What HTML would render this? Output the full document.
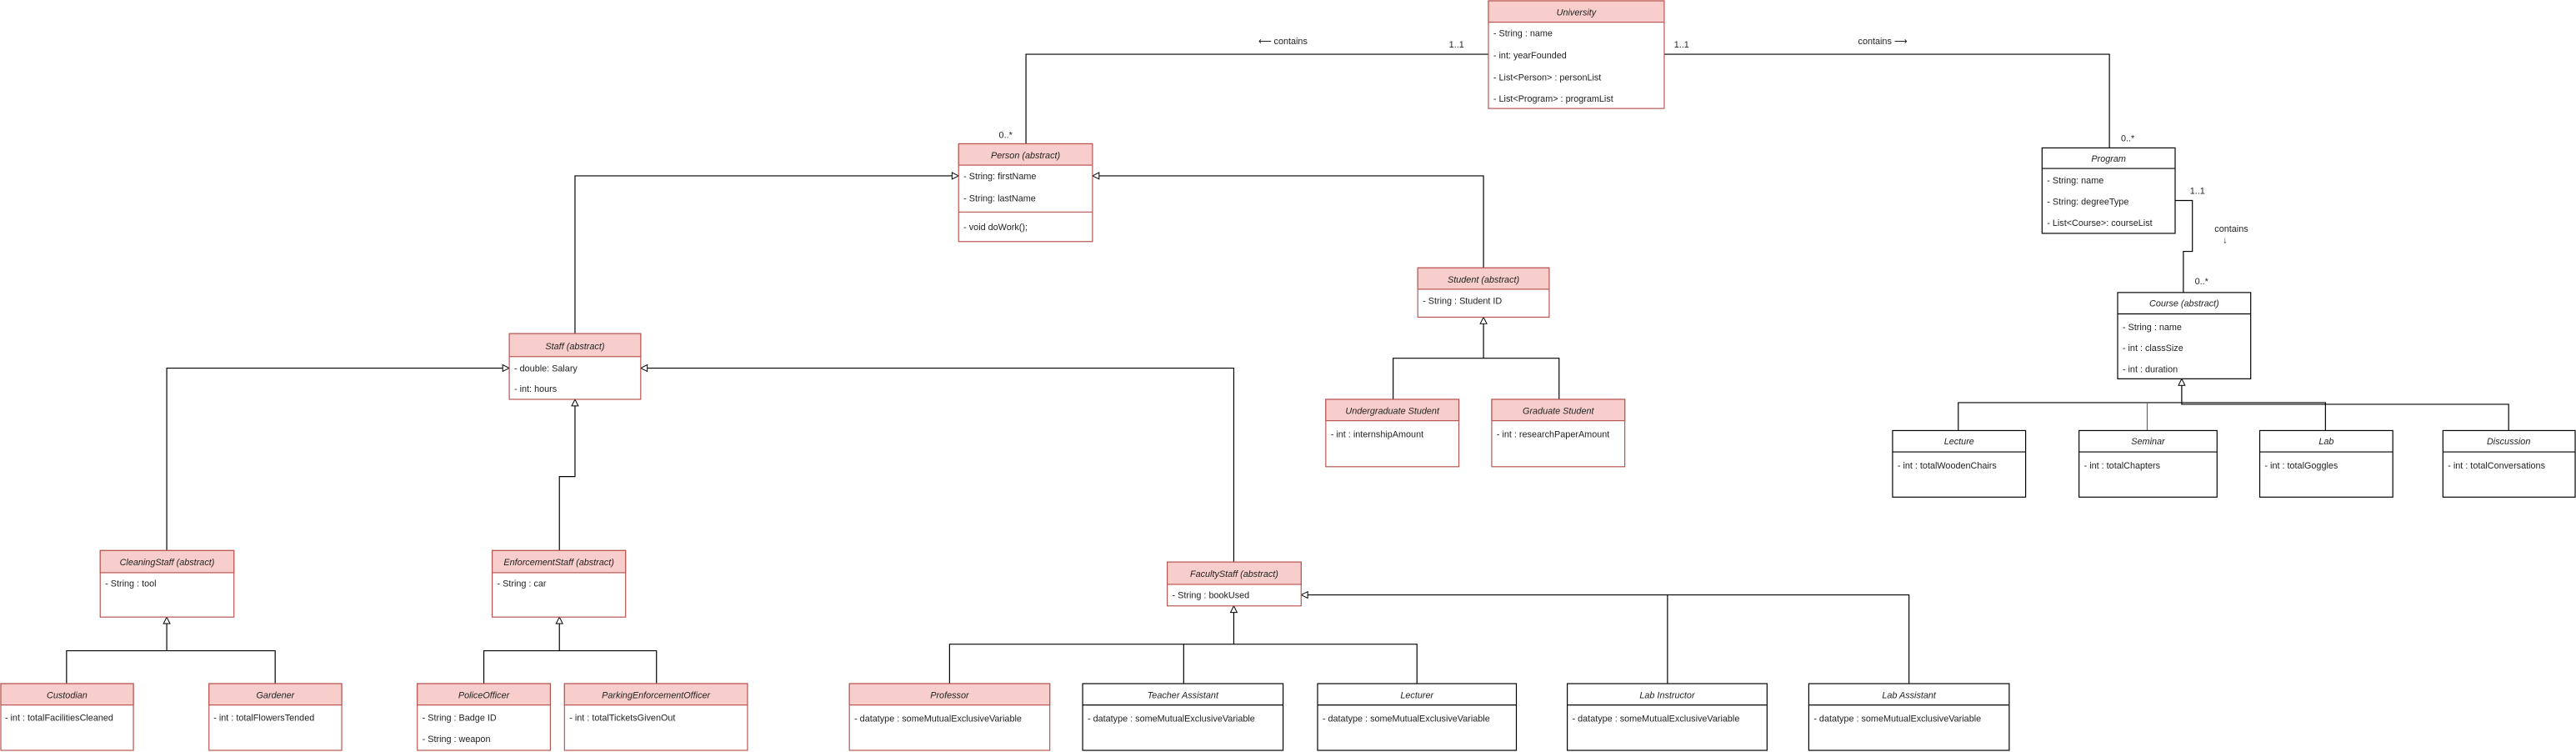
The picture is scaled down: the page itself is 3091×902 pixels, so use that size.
<!DOCTYPE html>
<html><head><meta charset="utf-8"><style>
html,body{margin:0;padding:0;background:#fff;}
svg{display:block;}
text{font-family:"Liberation Sans",Arial,sans-serif;font-size:5.5px;fill:#222;}
.t{font-style:italic;text-anchor:middle;}
.pk{fill:#f8cecc;stroke:#b85450;stroke-width:0.6;}
.pw{fill:#fff;stroke:#b85450;stroke-width:0.6;}
.bk{fill:#fff;stroke:#000;stroke-width:0.6;}
.ln{fill:none;stroke:#000;stroke-width:0.6;}
.tri{fill:#fff;stroke:#000;stroke-width:0.5;}
</style></head><body>
<svg width="3091" height="902" viewBox="0 0 1568 457.6" preserveAspectRatio="none" xmlns="http://www.w3.org/2000/svg">
<rect width="1568" height="457.6" fill="#fff"/>

<!-- connectors -->
<polyline class="ln" points="906,33 624.5,33 624.5,87.5"/>
<polyline class="ln" points="1013,33 1284,33 1284,90"/>
<polyline class="ln" points="1324,122 1334.5,122 1334.5,153 1329,153 1329,178"/>
<polyline class="ln" points="350,203 350,107 579.5,107"/>
<polyline class="ln" points="903,163 903,107 669,107"/>
<polyline class="ln" points="848,243 848,218 949,218 949,243"/>
<line class="ln" x1="903" y1="218" x2="903" y2="197"/>
<polyline class="ln" points="306,224 101.5,224 101.5,335"/>
<polyline class="ln" points="340.5,335 340.5,290 350,290 350,247"/>
<polyline class="ln" points="394,224 751,224 751,342"/>
<polyline class="ln" points="40.5,416 40.5,396 167.5,396 167.5,416"/>
<line class="ln" x1="101.5" y1="396" x2="101.5" y2="379.5"/>
<polyline class="ln" points="294.5,416 294.5,396 399.6,396 399.6,416"/>
<line class="ln" x1="340.5" y1="396" x2="340.5" y2="379.5"/>
<polyline class="ln" points="578,416 578,392 862.5,392 862.5,416"/>
<line class="ln" x1="720.5" y1="392" x2="720.5" y2="416"/>
<line class="ln" x1="751" y1="392" x2="751" y2="372.7"/>
<polyline class="ln" points="1015,416 1015,362 796,362"/>
<polyline class="ln" points="1162,416 1162,362 1015,362"/>
<polyline class="ln" points="1192,262 1192,245 1415.5,245 1415.5,262"/>
<line class="ln" x1="1307" y1="262" x2="1307" y2="245" style="stroke:#666"/>
<polyline class="ln" points="1527,262 1527,246 1328,246 1328,234.5"/>

<!-- triangles -->
<polygon class="tri" points="583.5,107 579.5,105 579.5,109"/>
<polygon class="tri" points="665,107 669,105 669,109"/>
<polygon class="tri" points="903,193 901,197 905,197"/>
<polygon class="tri" points="310,224 306,222 306,226"/>
<polygon class="tri" points="390,224 394,222 394,226"/>
<polygon class="tri" points="350,243 348,247 352,247"/>
<polygon class="tri" points="101.5,375.5 99.5,379.5 103.5,379.5"/>
<polygon class="tri" points="340.5,375.5 338.5,379.5 342.5,379.5"/>
<polygon class="tri" points="751,368.7 749,372.7 753,372.7"/>
<polygon class="tri" points="792,362 796,360 796,364"/>
<polygon class="tri" points="1328,230.5 1326,234.5 1330,234.5"/>

<!-- labels -->
<text x="766" y="27">⟵ contains</text>
<text x="882" y="29">1..1</text>
<text x="1019" y="29">1..1</text>
<text x="1131" y="27">contains ⟶</text>
<text x="608" y="84">0..*</text>
<text x="1291" y="86">0..*</text>
<text x="1333" y="118">1..1</text>
<text x="1348" y="141">contains</text>
<text x="1353" y="148">↓</text>
<text x="1336" y="173">0..*</text>

<!-- University -->
<rect class="pw" x="906" y="0.5" width="107" height="65.5"/>
<rect class="pk" x="906" y="0.5" width="107" height="13"/>
<text class="t" x="959.5" y="9.5">University</text>
<text x="909" y="22">- String : name</text>
<text x="909" y="35.5">- int: yearFounded</text>
<text x="909" y="49">- List&lt;Person&gt; :  personList</text>
<text x="909" y="62">- List&lt;Program&gt; : programList</text>

<!-- Person -->
<rect class="pw" x="583.5" y="87.5" width="81.5" height="59.5"/>
<rect class="pk" x="583.5" y="87.5" width="81.5" height="13"/>
<line x1="583.5" y1="129" x2="665" y2="129" stroke="#b85450" stroke-width="0.6"/>
<text class="t" x="624.25" y="96.5">Person (abstract)</text>
<text x="586.5" y="109">- String: firstName</text>
<text x="586.5" y="122.5">- String: lastName</text>
<text x="586.5" y="140">- void doWork();</text>

<!-- Program -->
<rect class="bk" x="1243" y="90" width="81" height="52"/>
<line x1="1243" y1="102.5" x2="1324" y2="102.5" stroke="#000" stroke-width="0.6"/>
<text class="t" x="1283.5" y="98.5">Program</text>
<text x="1246" y="111.5">- String: name</text>
<text x="1246" y="124.5">- String: degreeType</text>
<text x="1246" y="137.5">- List&lt;Course&gt;: courseList</text>

<!-- Course -->
<rect class="bk" x="1289" y="178" width="81" height="52.5"/>
<line x1="1289" y1="191" x2="1370" y2="191" stroke="#000" stroke-width="0.6"/>
<text class="t" x="1329.5" y="186.5">Course (abstract)</text>
<text x="1292" y="201">- String : name</text>
<text x="1292" y="213.5">- int : classSize</text>
<text x="1292" y="226.5">- int : duration</text>

<!-- Course children -->
<rect class="bk" x="1152" y="262" width="81" height="40.5"/>
<line x1="1152" y1="275" x2="1233" y2="275" stroke="#000" stroke-width="0.6"/>
<text class="t" x="1192.5" y="270.5">Lecture</text>
<text x="1155" y="285">- int : totalWoodenChairs</text>

<rect class="bk" x="1265.5" y="262" width="84" height="40.5"/>
<line x1="1265.5" y1="275" x2="1349.5" y2="275" stroke="#000" stroke-width="0.6"/>
<text class="t" x="1307.5" y="270.5">Seminar</text>
<text x="1268.5" y="285">- int : totalChapters</text>

<rect class="bk" x="1375.5" y="262" width="81" height="40.5"/>
<line x1="1375.5" y1="275" x2="1456.5" y2="275" stroke="#000" stroke-width="0.6"/>
<text class="t" x="1416" y="270.5">Lab</text>
<text x="1378.5" y="285">- int : totalGoggles</text>

<rect class="bk" x="1487" y="262" width="80.5" height="40.5"/>
<line x1="1487" y1="275" x2="1567.5" y2="275" stroke="#000" stroke-width="0.6"/>
<text class="t" x="1527" y="270.5">Discussion</text>
<text x="1490" y="285">- int : totalConversations</text>

<!-- Student -->
<rect class="pw" x="863" y="163" width="80" height="30"/>
<rect class="pk" x="863" y="163" width="80" height="13"/>
<text class="t" x="903" y="172">Student (abstract)</text>
<text x="866" y="185">- String : Student ID</text>

<rect class="pw" x="807" y="243" width="81" height="41"/>
<rect class="pk" x="807" y="243" width="81" height="13"/>
<text class="t" x="847.5" y="252">Undergraduate Student</text>
<text x="810" y="266">- int : internshipAmount</text>

<rect class="pw" x="908" y="243" width="81" height="41"/>
<rect class="pk" x="908" y="243" width="81" height="13"/>
<text class="t" x="948.5" y="252">Graduate Student</text>
<text x="911" y="266">- int : researchPaperAmount</text>

<!-- Staff -->
<rect class="pw" x="310" y="203" width="80" height="40"/>
<rect class="pk" x="310" y="203" width="80" height="14"/>
<text class="t" x="350" y="212.5">Staff (abstract)</text>
<text x="313" y="226">- double: Salary</text>
<text x="313" y="238.5">- int: hours</text>

<!-- Cleaning -->
<rect class="pw" x="61" y="335" width="81.4" height="40.5"/>
<rect class="pk" x="61" y="335" width="81.4" height="13.5"/>
<text class="t" x="101.7" y="344">CleaningStaff (abstract)</text>
<text x="64" y="357">- String : tool</text>

<rect class="pw" x="299.6" y="335" width="81.2" height="40.5"/>
<rect class="pk" x="299.6" y="335" width="81.2" height="13.5"/>
<text class="t" x="340.2" y="344">EnforcementStaff (abstract)</text>
<text x="302.6" y="357">- String : car</text>

<!-- Faculty -->
<rect class="pw" x="710.5" y="342" width="81.5" height="26.7"/>
<rect class="pk" x="710.5" y="342" width="81.5" height="13.6"/>
<text class="t" x="751.25" y="351">FacultyStaff (abstract)</text>
<text x="713.5" y="364">- String : bookUsed</text>

<!-- bottom row -->
<rect class="pw" x="0.5" y="416" width="80.7" height="40.6"/>
<rect class="pk" x="0.5" y="416" width="80.7" height="13"/>
<text class="t" x="40.8" y="425">Custodian</text>
<text x="3" y="438.5">- int : totalFacilitiesCleaned</text>

<rect class="pw" x="127.2" y="416" width="80.8" height="40.6"/>
<rect class="pk" x="127.2" y="416" width="80.8" height="13"/>
<text class="t" x="167.6" y="425">Gardener</text>
<text x="130" y="438.5">- int : totalFlowersTended</text>

<rect class="pw" x="254" y="416" width="81" height="40.6"/>
<rect class="pk" x="254" y="416" width="81" height="13"/>
<text class="t" x="294.5" y="425">PoliceOfficer</text>
<text x="257" y="438.5">- String : Badge ID</text>
<text x="257" y="451.5">- String : weapon</text>

<rect class="pw" x="343.6" y="416" width="111.4" height="40.6"/>
<rect class="pk" x="343.6" y="416" width="111.4" height="13"/>
<text class="t" x="399.3" y="425">ParkingEnforcementOfficer</text>
<text x="346.6" y="438.5">- int : totalTicketsGivenOut</text>

<rect class="pw" x="517" y="416" width="122" height="40.6"/>
<rect class="pk" x="517" y="416" width="122" height="13"/>
<text class="t" x="578" y="425">Professor</text>
<text x="520" y="439">- datatype : someMutualExclusiveVariable</text>

<rect class="bk" x="659" y="416" width="122" height="40.6"/>
<line x1="659" y1="429" x2="781" y2="429" stroke="#000" stroke-width="0.6"/>
<text class="t" x="720" y="425">Teacher Assistant</text>
<text x="662" y="439">- datatype : someMutualExclusiveVariable</text>

<rect class="bk" x="802" y="416" width="121" height="40.6"/>
<line x1="802" y1="429" x2="923" y2="429" stroke="#000" stroke-width="0.6"/>
<text class="t" x="862.5" y="425">Lecturer</text>
<text x="805" y="439">- datatype : someMutualExclusiveVariable</text>

<rect class="bk" x="954" y="416" width="121.6" height="40.6"/>
<line x1="954" y1="429" x2="1075.6" y2="429" stroke="#000" stroke-width="0.6"/>
<text class="t" x="1014.8" y="425">Lab Instructor</text>
<text x="957" y="439">- datatype : someMutualExclusiveVariable</text>

<rect class="bk" x="1101" y="416" width="122" height="40.6"/>
<line x1="1101" y1="429" x2="1223" y2="429" stroke="#000" stroke-width="0.6"/>
<text class="t" x="1162" y="425">Lab Assistant</text>
<text x="1104" y="439">- datatype : someMutualExclusiveVariable</text>
</svg>
</body></html>
